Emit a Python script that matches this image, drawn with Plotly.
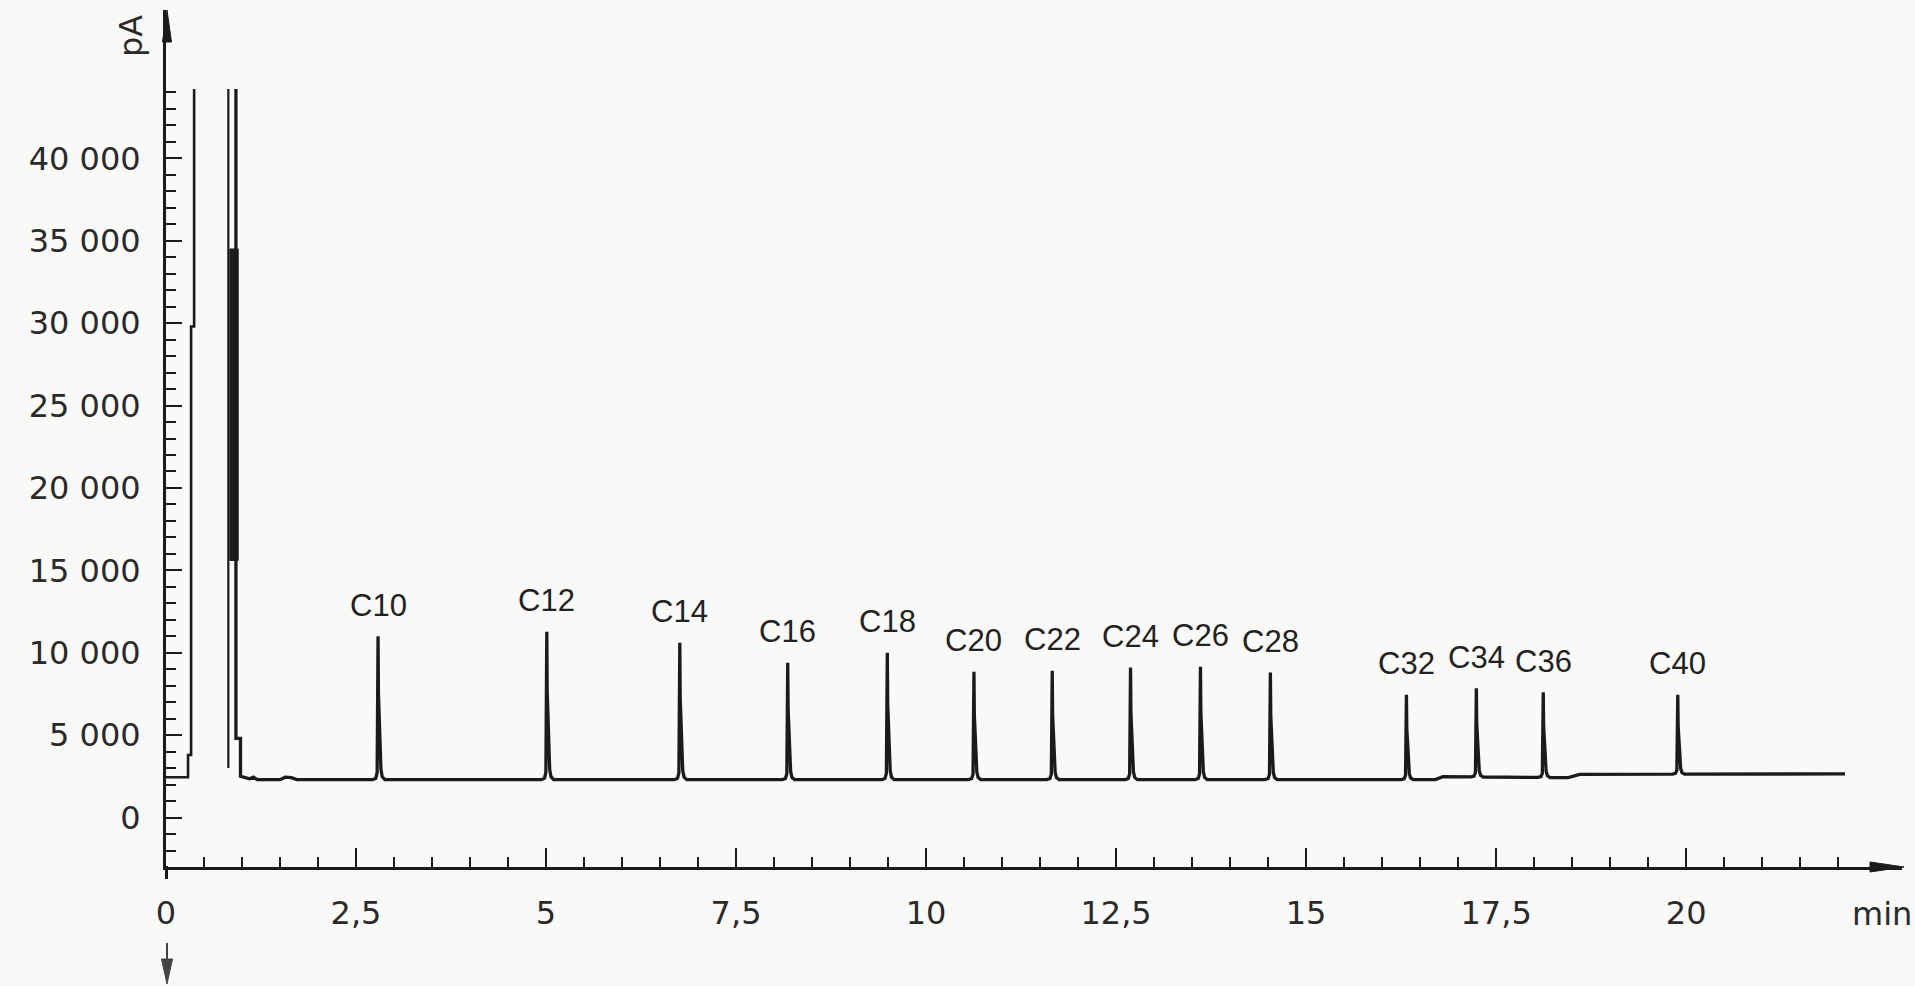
import numpy as np
import plotly.graph_objects as go

# ---------------- data ----------------
peak_names = ["C10", "C12", "C14", "C16", "C18", "C20", "C22", "C24",
              "C26", "C28", "C32", "C34", "C36", "C40"]
peak_times = [2.79, 5.01, 6.76, 8.18, 9.49, 10.63, 11.66, 12.69,
              13.61, 14.53, 16.32, 17.24, 18.12, 19.89]          # min
peak_tops = [11000, 11270, 10600, 9400, 10000, 8850, 8900, 9100,
             9150, 8800, 7450, 7850, 7600, 7450]                 # pA

# baseline knots (after the solvent peak)
baseline_t = [1.02, 1.10, 1.15, 1.20, 1.50, 1.57, 1.65, 1.72,
              16.70, 16.80, 18.45, 18.60, 22.09]
baseline_v = [2450, 2350, 2450, 2300, 2300, 2450, 2420, 2300,
              2300, 2480, 2420, 2620, 2650]

# injection step at the start (pen goes off scale)
inj_t = [0.0, 0.29, 0.29, 0.33, 0.33, 0.37, 0.37]
inj_v = [2450, 2450, 3800, 3800, 29800, 29800, 44200]

# solvent peak: left flank, right flank and the dark over-written block
solv_left_t = [0.82, 0.82]
solv_left_v = [3000, 44200]
solv_right_t = [0.92, 0.92, 0.98, 0.98]
solv_right_v = [44200, 4800, 4800, 2500]
solv_block_t = [0.84, 0.95, 0.95, 0.84, 0.84]
solv_block_v = [15600, 15600, 34500, 34500, 15600]

x_tickvals = [0, 2.5, 5, 7.5, 10, 12.5, 15, 17.5, 20]
x_ticktext = ["0", "2,5", "5", "7,5", "10", "12,5", "15", "17,5", "20"]
y_tickvals = [0, 5000, 10000, 15000, 20000, 25000, 30000, 35000, 40000]
y_ticktext = ["0", "5 000", "10 000", "15 000", "20 000", "25 000",
              "30 000", "35 000", "40 000"]

# ---------------- style constants ----------------
W, H = 1915, 986
ML, MR, MT, MB = 166, 13, 10, 119
X_RANGE = [0, 22.84]
Y_RANGE = [-3000, 49000]
INK = "#1b1b1b"
BG = "#f9f9f7"
TICKFONT = dict(family="DejaVu Sans", size=32, color="#2a2a2a")
LABFONT = dict(family="Liberation Sans, Arial", size=31, color="#222222")

# peak profile template (shape of a recorder spike, with a shoulder on the tail)
PROFILE_DT = [-0.07, -0.03, -0.012, -0.003, 0.0, 0.005, 0.011, 0.018, 0.024,
              0.03, 0.038, 0.055, 0.09]
PROFILE_REL = [0.0, 0.01, 0.05, 0.5, 1.0, 0.6, 0.47, 0.42, 0.3, 0.15, 0.07, 0.02, 0.0]

# ---------------- build main trace ----------------
pts = list(zip(baseline_t, baseline_v))
for t0, top in zip(peak_times, peak_tops):
    b0 = float(np.interp(t0, baseline_t, baseline_v))
    for dt, rel in zip(PROFILE_DT, PROFILE_REL):
        t = t0 + dt
        b = float(np.interp(t, baseline_t, baseline_v))
        pts.append((t, b + rel * (top - b0)))
pts.sort(key=lambda p: p[0])
main_t = solv_right_t + [p[0] for p in pts]
main_v = solv_right_v + [p[1] for p in pts]

fig = go.Figure()
line_style = dict(color=INK, width=3.3)
fig.add_trace(go.Scatter(x=inj_t, y=inj_v, mode="lines", line=dict(color=INK, width=2.6),
                         hoverinfo="skip", showlegend=False))
fig.add_trace(go.Scatter(x=solv_left_t, y=solv_left_v, mode="lines",
                         line=dict(color=INK, width=2.2),
                         hoverinfo="skip", showlegend=False))
fig.add_trace(go.Scatter(x=solv_block_t, y=solv_block_v, mode="lines",
                         fill="toself", fillcolor=INK, line=dict(color=INK, width=1),
                         hoverinfo="skip", showlegend=False))
fig.add_trace(go.Scatter(x=main_t, y=main_v, mode="lines", line=line_style,
                         hoverinfo="skip", showlegend=False))

# peak labels
for name, t0, top in zip(peak_names, peak_times, peak_tops):
    fig.add_annotation(x=t0, y=top, text=name, showarrow=False,
                       yanchor="middle", yshift=31, font=LABFONT)

pw = W - ML - MR
ph = H - MT - MB


def px(xp):
    return (xp - ML) / pw


def py(yp):
    return (H - MB - yp) / ph


shapes = []
# y-axis arrowhead (top)
shapes.append(dict(type="path", xref="paper", yref="paper",
                   path=f"M {px(167)},{py(10)} L {px(162.5)},{py(42)} L {px(171.5)},{py(42)} Z",
                   fillcolor=INK, line=dict(color=INK, width=1)))
# x-axis arrowhead (right)
shapes.append(dict(type="path", xref="paper", yref="paper",
                   path=f"M {px(1904)},{py(867)} L {px(1870)},{py(862)} L {px(1870)},{py(872)} Z",
                   fillcolor=INK, line=dict(color=INK, width=1)))
# small extension of y-axis below x-axis
shapes.append(dict(type="line", xref="paper", yref="paper",
                   x0=px(166.5), x1=px(166.5), y0=py(866), y1=py(879),
                   line=dict(color=INK, width=3)))
# injection marker arrow below the 0 label
shapes.append(dict(type="line", xref="paper", yref="paper",
                   x0=px(167), x1=px(167), y0=py(943), y1=py(962),
                   line=dict(color="#444444", width=2)))
shapes.append(dict(type="path", xref="paper", yref="paper",
                   path=f"M {px(167)},{py(984)} L {px(161.5)},{py(959)} L {px(172.5)},{py(959)} Z",
                   fillcolor="#444444", line=dict(color="#444444", width=1)))

# unit labels
fig.add_annotation(xref="paper", yref="paper", x=px(131), y=py(36), text="pA",
                   showarrow=False, textangle=-90, font=TICKFONT,
                   xanchor="center", yanchor="middle")
fig.add_annotation(xref="paper", yref="paper", x=px(1882), y=py(914), text="min",
                   showarrow=False, font=TICKFONT, xanchor="center", yanchor="middle")

x_minor = [v / 2 for v in range(1, 45) if (v / 2) % 2.5 != 0]
y_minor = [v * 1000 for v in range(-2, 45) if v % 5 != 0]

fig.update_layout(
    width=W, height=H,
    margin=dict(l=ML, r=MR, t=MT, b=MB, pad=0),
    paper_bgcolor=BG, plot_bgcolor=BG,
    shapes=shapes,
    xaxis=dict(range=X_RANGE, showgrid=False, zeroline=False,
               showline=True, linecolor=INK, linewidth=3,
               ticks="inside", ticklen=19, tickwidth=2, tickcolor=INK,
               tickmode="array", tickvals=x_tickvals, ticktext=x_ticktext,
               tickfont=TICKFONT, ticklabelstandoff=16,
               minor=dict(tickmode="array", tickvals=x_minor, ticks="inside",
                          ticklen=10, tickwidth=2, tickcolor=INK, showgrid=False),
               fixedrange=True),
    yaxis=dict(range=Y_RANGE, showgrid=False, zeroline=False,
               showline=True, linecolor=INK, linewidth=3,
               ticks="inside", ticklen=16, tickwidth=2, tickcolor=INK,
               tickmode="array", tickvals=y_tickvals, ticktext=y_ticktext,
               tickfont=TICKFONT, ticklabelstandoff=16,
               minor=dict(tickmode="array", tickvals=y_minor, ticks="inside",
                          ticklen=10, tickwidth=2, tickcolor=INK, showgrid=False),
               fixedrange=True),
)

fig.write_html("out.html")
